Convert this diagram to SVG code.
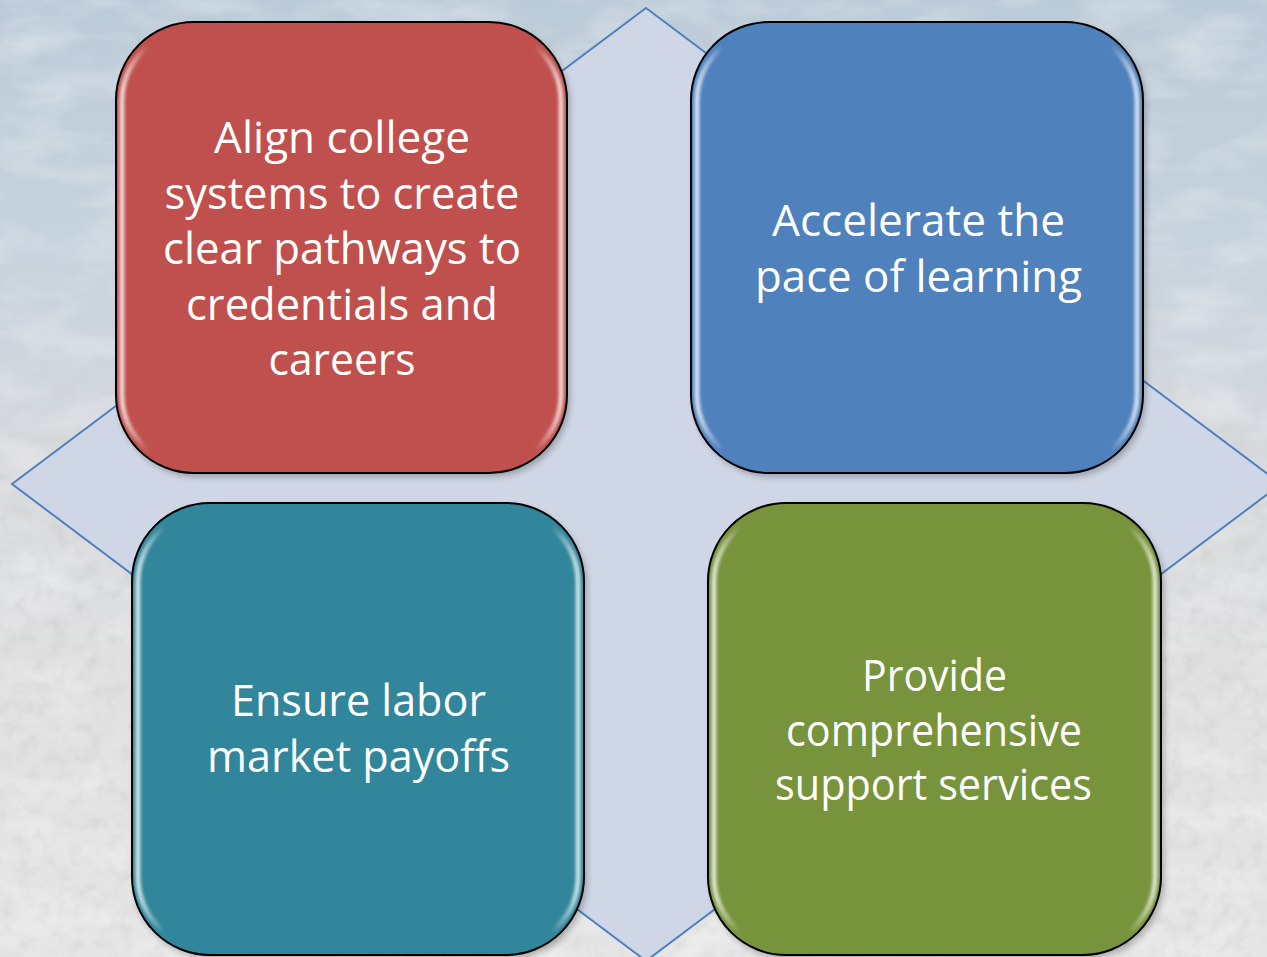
<svg xmlns="http://www.w3.org/2000/svg" width="1267" height="957" viewBox="0 0 1267 957">
<defs>
<linearGradient id="bg" x1="0" y1="0" x2="0" y2="1">
<stop offset="0" stop-color="#bccbd8"/>
<stop offset="0.25" stop-color="#c6d2dc"/>
<stop offset="0.45" stop-color="#d6d9dc"/>
<stop offset="0.7" stop-color="#e0e0e0"/>
<stop offset="1" stop-color="#e6e6e6"/>
</linearGradient>
<filter id="noise" x="0" y="0" width="100%" height="100%">
<feTurbulence type="fractalNoise" baseFrequency="0.012 0.03" numOctaves="4" seed="3"/>
<feColorMatrix type="matrix" values="0 0 0 0 1  0 0 0 0 1  0 0 0 0 1  0 0 0 1.4 -0.6"/>
</filter>
<filter id="grain" x="0" y="0" width="100%" height="100%">
<feTurbulence type="fractalNoise" baseFrequency="0.06" numOctaves="3" seed="7"/>
<feColorMatrix type="matrix" values="0 0 0 0 0.5  0 0 0 0 0.5  0 0 0 0 0.5  0 0 0 1.2 -0.55"/>
</filter>
<linearGradient id="fade" x1="0" y1="0" x2="0" y2="1">
<stop offset="0.3" stop-color="#fff" stop-opacity="0"/>
<stop offset="0.6" stop-color="#fff" stop-opacity="1"/>
</linearGradient>
<mask id="lower"><rect width="1267" height="957" fill="url(#fade)"/></mask>
<linearGradient id="gloss" x1="0" y1="0" x2="1" y2="0">
<stop offset="0" stop-color="#fff" stop-opacity="0.75"/>
<stop offset="0.06" stop-color="#fff" stop-opacity="0"/>
<stop offset="0.94" stop-color="#fff" stop-opacity="0"/>
<stop offset="1" stop-color="#fff" stop-opacity="0.75"/>
</linearGradient>
<filter id="soft" x="-5%" y="-5%" width="110%" height="110%"><feGaussianBlur stdDeviation="1.5"/></filter>
<filter id="shadow" x="-10%" y="-10%" width="120%" height="120%"><feGaussianBlur stdDeviation="3"/></filter>
</defs>
<style>
.t{font-family:"Open Sans","Noto Sans",sans-serif;font-size:43px;fill:#fff;text-anchor:middle}
.box{stroke:#000;stroke-width:2}
.gl{fill:none;stroke:url(#gloss);stroke-width:5}
.sh{fill:#000;opacity:0.25}
</style>
<rect width="1267" height="957" fill="url(#bg)"/>
<rect width="1267" height="957" filter="url(#noise)" opacity="0.5"/>
<rect width="1267" height="957" filter="url(#grain)" opacity="0.5" mask="url(#lower)"/>
<g id="diamond">
<polygon points="646,8 1281,484 646,961 12,484" fill="#cfd6e5" stroke="#4f81bd" stroke-width="2"/>
</g>
<g id="connectors"/>
<g id="node-align">
<rect class="sh" x="119" y="26" width="451" height="451" rx="78" filter="url(#shadow)"/>
<rect class="box" x="116" y="22" width="451" height="451" rx="78" fill="#c0504d"/>
<rect class="gl" x="122" y="30" width="439" height="436" rx="72" filter="url(#soft)"/>
<text class="t" x="342" y="153" textLength="256" lengthAdjust="spacingAndGlyphs">Align college</text>
<text class="t" x="342" y="208.6" textLength="355" lengthAdjust="spacingAndGlyphs">systems to create</text>
<text class="t" x="342" y="264.2" textLength="358" lengthAdjust="spacingAndGlyphs">clear pathways to</text>
<text class="t" x="342" y="319.8" textLength="312" lengthAdjust="spacingAndGlyphs">credentials and</text>
<text class="t" x="342" y="375.4" textLength="147" lengthAdjust="spacingAndGlyphs">careers</text>
</g>
<g id="node-accelerate">
<rect class="sh" x="694" y="26" width="452" height="451" rx="78" filter="url(#shadow)"/>
<rect class="box" x="691" y="22" width="452" height="451" rx="78" fill="#4f81bd"/>
<rect class="gl" x="697" y="30" width="440" height="436" rx="72" filter="url(#soft)"/>
<text class="t" x="918.5" y="236" textLength="293" lengthAdjust="spacingAndGlyphs">Accelerate the</text>
<text class="t" x="918.5" y="291.6" textLength="327" lengthAdjust="spacingAndGlyphs">pace of learning</text>
</g>
<g id="node-ensure">
<rect class="sh" x="135" y="507" width="452" height="452" rx="78" filter="url(#shadow)"/>
<rect class="box" x="132" y="503" width="452" height="452" rx="78" fill="#31869b"/>
<rect class="gl" x="138" y="511" width="440" height="437" rx="72" filter="url(#soft)"/>
<text class="t" x="358.5" y="716" textLength="255" lengthAdjust="spacingAndGlyphs">Ensure labor</text>
<text class="t" x="358.5" y="771.6" textLength="303" lengthAdjust="spacingAndGlyphs">market payoffs</text>
</g>
<g id="node-provide">
<rect class="sh" x="711" y="507" width="453" height="452" rx="78" filter="url(#shadow)"/>
<rect class="box" x="708" y="503" width="453" height="452" rx="78" fill="#77933c"/>
<rect class="gl" x="714" y="511" width="441" height="437" rx="72" filter="url(#soft)"/>
<text class="t" x="934.5" y="691" textLength="145" lengthAdjust="spacingAndGlyphs">Provide</text>
<text class="t" x="934" y="745.5" textLength="296" lengthAdjust="spacingAndGlyphs">comprehensive</text>
<text class="t" x="933.5" y="800" textLength="317" lengthAdjust="spacingAndGlyphs">support services</text>
</g>
</svg>
